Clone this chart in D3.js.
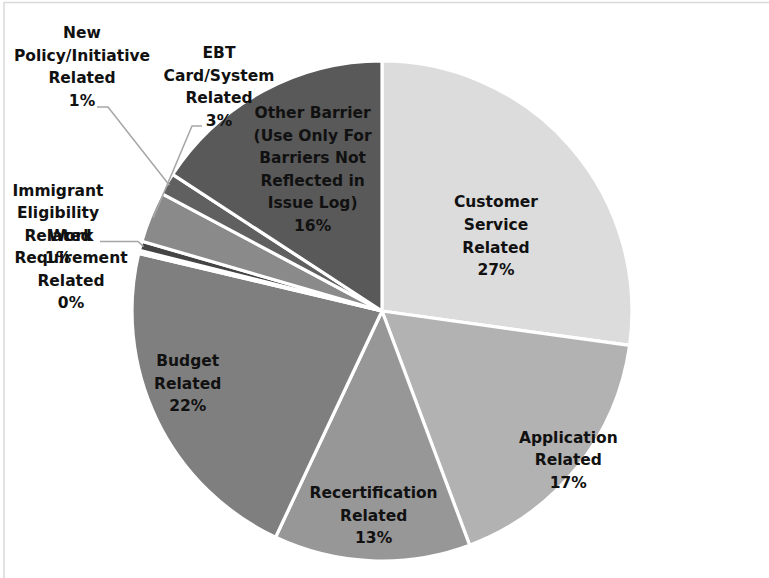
<!DOCTYPE html>
<html>
<head>
<meta charset="utf-8">
<script src="https://cdn.jsdelivr.net/npm/d3@7"></script>
<style>
  html, body { margin: 0; padding: 0; background: #fff; }
  svg { display: block; }
  .lbl { font-family: "DejaVu Sans", sans-serif; font-weight: bold; font-size: 15.5px; fill: #111; }
</style>
</head>
<body>
<svg id="chart" width="769" height="578"></svg>
<script>
// Barrier categories, in drawing order (clockwise from 12 o'clock)
const categories = [
  "Customer Service Related",
  "Application Related",
  "Recertification Related",
  "Budget Related",
  "Work Requirement Related",
  "Immigrant Eligibility Related",
  "EBT Card/System Related",
  "New Policy/Initiative Related",
  "Other Barrier (Use Only For Barriers Not Reflected in Issue Log)"
];

// Share of all logged barriers, percent
const shares = [27.2, 17.1, 12.7, 21.7, 0.2, 0.6, 3.3, 1.4, 15.8];

// How each category name wraps in its label
const labelLines = [
  ["Customer", "Service", "Related"],
  ["Application", "Related"],
  ["Recertification", "Related"],
  ["Budget", "Related"],
  ["Work", "Requirement", "Related"],
  ["Immigrant", "Eligibility", "Related"],
  ["EBT", "Card/System", "Related"],
  ["New", "Policy/Initiative", "Related"],
  ["Other Barrier", "(Use Only For", "Barriers Not", "Reflected in", "Issue Log)"]
];

// Slice fills
const fills = ["#dcdcdc", "#b2b2b2", "#979797", "#7f7f7f", "#3c3c3c", "#444444", "#8a8a8a", "#606060", "#595959"];

const W = 769, H = 578;
const cx = 382, cy = 311, R = 250;
const lineH = 22.6;

const svg = d3.select("#chart");

// chart-area frame
svg.append("rect")
  .attr("x", 4).attr("y", 2.5)
  .attr("width", W + 10).attr("height", H + 10)
  .attr("fill", "none").attr("stroke", "#d9d9d9").attr("stroke-width", 1.5);

const data = categories.map((c, i) => ({ name: c, value: shares[i], lines: labelLines[i], fill: fills[i], i }));

const pie = d3.pie().sort(null).value(d => d.value).startAngle(0).endAngle(2 * Math.PI);
const arcs = pie(data);
const arc = d3.arc().innerRadius(0).outerRadius(R);

const g = svg.append("g").attr("transform", `translate(${cx},${cy})`);

g.selectAll("path.slice")
  .data(arcs)
  .join("path")
  .attr("class", "slice")
  .attr("d", arc)
  .attr("fill", d => d.data.fill)
  .attr("stroke", "#fff")
  .attr("stroke-width", 3.2)
  .attr("stroke-linejoin", "round");

// point on a ray at angle a (radians, clockwise from 12 o'clock)
const polar = (a, r) => [r * Math.sin(a), -r * Math.cos(a)];
const mid = d => (d.startAngle + d.endAngle) / 2;

// label placement: inside labels sit on the slice bisector (radius ratio, angle nudge in degrees);
// outside labels get an offset from the pie centre plus a leader line.
const placement = {
  0: { inside: true, ratio: 0.545, nudge: 7.8 },
  1: { inside: true, ratio: 0.955, nudge: 0 },
  2: { inside: true, ratio: 0.82, nudge: 0 },
  3: { inside: true, ratio: 0.83, nudge: 5.2 },
  4: { dx: -311, dy: -41.5, leader: null },
  5: { dx: -324, dy: -86.5, leader: [[42, 17], [80, 17]] },
  6: { dx: -163, dy: -224, leader: [[-17, 39], [-27, 39]] },
  7: { dx: -300, dy: -244, leader: [[15, 40], [26, 40]] },
  8: { inside: true, ratio: 0.63, nudge: 2.3 }
};

const pct = d3.format(".0f");

const labelPos = d => {
  const p = placement[d.data.i];
  if (p.inside) return polar(mid(d) + p.nudge * Math.PI / 180, p.ratio * R);
  return [p.dx, p.dy];
};

// leader lines
const leaders = arcs.filter(d => placement[d.data.i].leader);
g.selectAll("path.leader")
  .data(leaders)
  .join("path")
  .attr("class", "leader")
  .attr("fill", "none")
  .attr("stroke", "#a6a6a6")
  .attr("stroke-width", 1.5)
  .attr("d", d => {
    const [lx, ly] = labelPos(d);
    const pts = placement[d.data.i].leader.map(([ox, oy]) => [lx + ox, ly + oy]);
    pts.push(polar(mid(d), R - 3));
    return d3.line()(pts);
  });

// labels
const labels = g.selectAll("text.lbl")
  .data(arcs)
  .join("text")
  .attr("class", "lbl")
  .attr("text-anchor", "middle")
  .attr("transform", d => `translate(${labelPos(d)})`);

labels.each(function (d) {
  const lines = d.data.lines.concat([pct(d.data.value) + "%"]);
  const top = -((lines.length - 1) * lineH) / 2;
  d3.select(this).selectAll("tspan")
    .data(lines)
    .join("tspan")
    .attr("x", 0)
    .attr("y", (t, k) => top + k * lineH)
    .attr("dominant-baseline", "central")
    .text(t => t);
});
</script>
</body>
</html>
